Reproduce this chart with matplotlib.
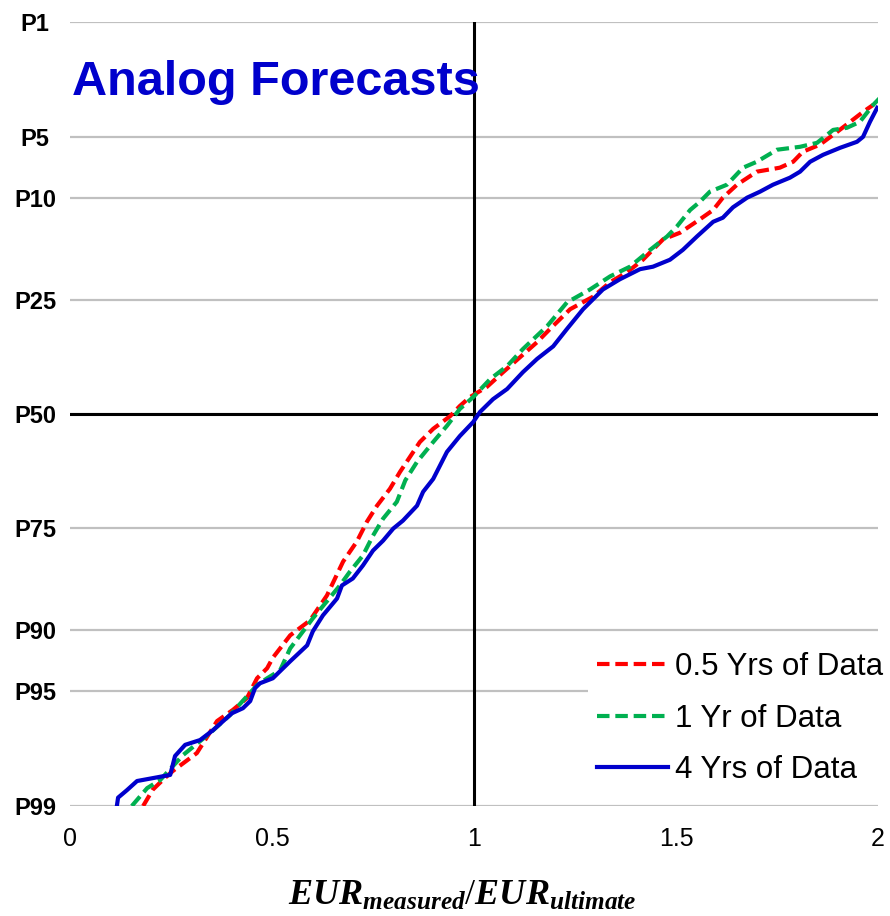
import matplotlib
matplotlib.use("Agg")
import matplotlib.pyplot as plt
from statistics import NormalDist

plt.rcParams['font.family'] = ['Liberation Sans', 'DejaVu Sans']
plt.rcParams['mathtext.fontset'] = 'custom'
plt.rcParams['mathtext.rm'] = 'Liberation Serif'
plt.rcParams['mathtext.it'] = 'Liberation Serif:italic'
plt.rcParams['mathtext.bf'] = 'Liberation Serif:bold'
plt.rcParams['mathtext.bfit'] = 'Liberation Serif:italic:bold'

# percentile ticks (P1 at top, P99 at bottom)
p_ticks = [1, 5, 10, 25, 50, 75, 90, 95, 99]
p_labels = ["P1", "P5", "P10", "P25", "P50", "P75", "P90", "P95", "P99"]
x_ticks = [0, 0.5, 1, 1.5, 2]
x_labels = ["0", "0.5", "1", "1.5", "2"]

# 0.5 Yrs of Data
x_05 = [0.181, 0.205, 0.235, 0.255, 0.314, 0.364, 0.403, 0.438, 0.463, 0.488,
        0.502, 0.520, 0.545, 0.594, 0.636, 0.676, 0.710, 0.735, 0.760, 0.792,
        0.817, 0.866, 0.899, 0.941, 0.965, 0.990, 1.032, 1.072, 1.114, 1.156,
        1.188, 1.238, 1.295, 1.337, 1.379, 1.418, 1.468, 1.510, 1.559, 1.592,
        1.616, 1.651, 1.700, 1.757, 1.790, 1.814, 1.856, 1.899, 1.931, 1.963,
        1.988]
p_05 = [99.0, 98.71, 98.46, 98.29, 97.79, 96.58, 96.05, 95.41, 94.16, 93.43,
        92.6, 91.79, 90.55, 88.97, 85.92, 80.94, 77.55, 73.86, 70.68, 67.14,
        63.42, 56.6, 53.5, 50.5, 48.1, 46.0, 43.6, 40.2, 36.8, 33.5,
        30.7, 26.7, 24.3, 21.7, 20.0, 18.0, 15.0, 14.1, 12.4, 11.3,
        9.96, 8.68, 7.52, 7.19, 6.72, 5.98, 5.50, 4.70, 4.15, 3.65,
        3.33]

# 1 Yr of Data
x_1 = [0.153, 0.191, 0.223, 0.280, 0.347, 0.396, 0.463, 0.488, 0.520, 0.545,
       0.601, 0.668, 0.693, 0.725, 0.750, 0.775, 0.809, 0.830, 0.859, 0.899,
       0.933, 0.965, 0.998, 1.040, 1.082, 1.121, 1.181, 1.230, 1.287, 1.337,
       1.386, 1.436, 1.478, 1.502, 1.535, 1.559, 1.584, 1.626, 1.666, 1.700,
       1.750, 1.807, 1.849, 1.889, 1.923, 1.955, 1.988, 2.005]
p_1 = [99.0, 98.68, 98.51, 97.85, 97.08, 96.30, 94.62, 94.16, 93.59, 91.79,
       88.74, 84.56, 82.51, 79.95, 76.48, 73.27, 69.88, 65.3, 61.18, 56.6,
       52.8, 48.8, 46.0, 41.8, 38.8, 35.0, 30.1, 25.4, 23.0, 20.7,
       19.1, 16.5, 14.6, 13.3, 11.3, 10.4, 9.35, 8.68, 7.19, 6.72,
       5.84, 5.64, 5.38, 4.59, 4.47, 4.15, 3.33, 3.03]

# 4 Yrs of Data
x_4 = [0.116, 0.119, 0.141, 0.166, 0.248, 0.260, 0.285, 0.322, 0.354, 0.401,
       0.428, 0.446, 0.458, 0.470, 0.502, 0.545, 0.587, 0.601, 0.626, 0.661,
       0.673, 0.700, 0.725, 0.750, 0.775, 0.800, 0.824, 0.859, 0.874, 0.899,
       0.933, 0.965, 0.998, 1.015, 1.047, 1.082, 1.121, 1.156, 1.196, 1.230,
       1.270, 1.319, 1.361, 1.411, 1.443, 1.485, 1.517, 1.552, 1.592, 1.616,
       1.641, 1.676, 1.708, 1.740, 1.782, 1.807, 1.832, 1.864, 1.906, 1.948,
       1.963, 1.980, 1.998]
p_4 = [99.0, 98.86, 98.72, 98.53, 98.39, 97.88, 97.52, 97.35, 96.97, 96.21,
       95.96, 95.58, 94.81, 94.50, 94.16, 92.89, 91.51, 90.15, 88.40, 86.32,
       84.56, 83.55, 81.57, 79.12, 77.38, 75.18, 73.66, 70.68, 67.79, 65.0,
       58.9, 55.2, 51.9, 49.5, 46.5, 44.1, 40.2, 37.2, 34.4, 30.7,
       26.7, 23.0, 21.2, 19.5, 19.1, 18.0, 16.5, 14.6, 12.7, 12.2,
       11.0, 9.96, 9.35, 8.68, 8.04, 7.52, 6.72, 6.20, 5.71, 5.31,
       5.0, 4.15, 3.46]

series = [
    (x_05, p_05, "0.5 Yrs of Data", "#ff0000", "--"),
    (x_1, p_1, "1 Yr of Data", "#00b050", "--"),
    (x_4, p_4, "4 Yrs of Data", "#0000cc", "-"),
]


def probit(p):
    # exceedance percentile -> normal score (P1 on top)
    return [NormalDist().inv_cdf(1 - v / 100.0) for v in p]


fig = plt.figure(figsize=(8.9, 9.16), dpi=100)
ax = fig.add_axes([70 / 890, 1 - 806 / 916, 808 / 890, 784 / 916])

y_ticks = probit(p_ticks)

for yt in y_ticks:
    ax.axhline(yt, color="#c0c0c0", lw=1.6, zorder=1)
ax.axvline(1, color="black", lw=2.2, zorder=2)
ax.axhline(probit([50])[0], color="black", lw=2.2, zorder=2)

for xs, ps, lab, col, ls in series:
    line, = ax.plot(xs, probit(ps), color=col, lw=3, label=lab, zorder=3)
    if ls == "--":
        line.set_dashes((3, 1.4))

ax.set_xlim(0, 2)
ax.set_ylim(y_ticks[-1], y_ticks[0])

ax.set_yticks(y_ticks)
ax.set_yticklabels(p_labels, fontsize=17, fontweight="bold")
for t in ax.get_yticklabels():
    t.set_ha("center")
ax.tick_params(axis="y", length=0, pad=25)

ax.set_xticks(x_ticks)
ax.set_xticklabels(x_labels, fontsize=18)
ax.tick_params(axis="x", length=0, pad=15)

for s in ax.spines.values():
    s.set_visible(False)

ax.text(0.002, 0.907, "Analog Forecasts", transform=ax.transAxes,
        fontsize=35, fontweight="bold", color="#0000cc", va="baseline", ha="left")

ax.set_xlabel(r"$\mathbfit{EUR}_{\mathbfit{measured}}/\mathbfit{EUR}_{\mathbfit{ultimate}}$",
              fontsize=26)
ax.xaxis.set_label_coords(0.485, -0.092)

leg = ax.legend(loc="upper left", bbox_to_anchor=(588 / 890, 1 - 643 / 916),
                bbox_transform=fig.transFigure, fontsize=22.5, frameon=True,
                fancybox=False, edgecolor="none", facecolor="white", framealpha=1,
                handlelength=2.27, handletextpad=0.22, labelspacing=0.68,
                borderpad=0.3, borderaxespad=0)
leg.set_zorder(5)

fig.savefig("out.png", dpi=100)
